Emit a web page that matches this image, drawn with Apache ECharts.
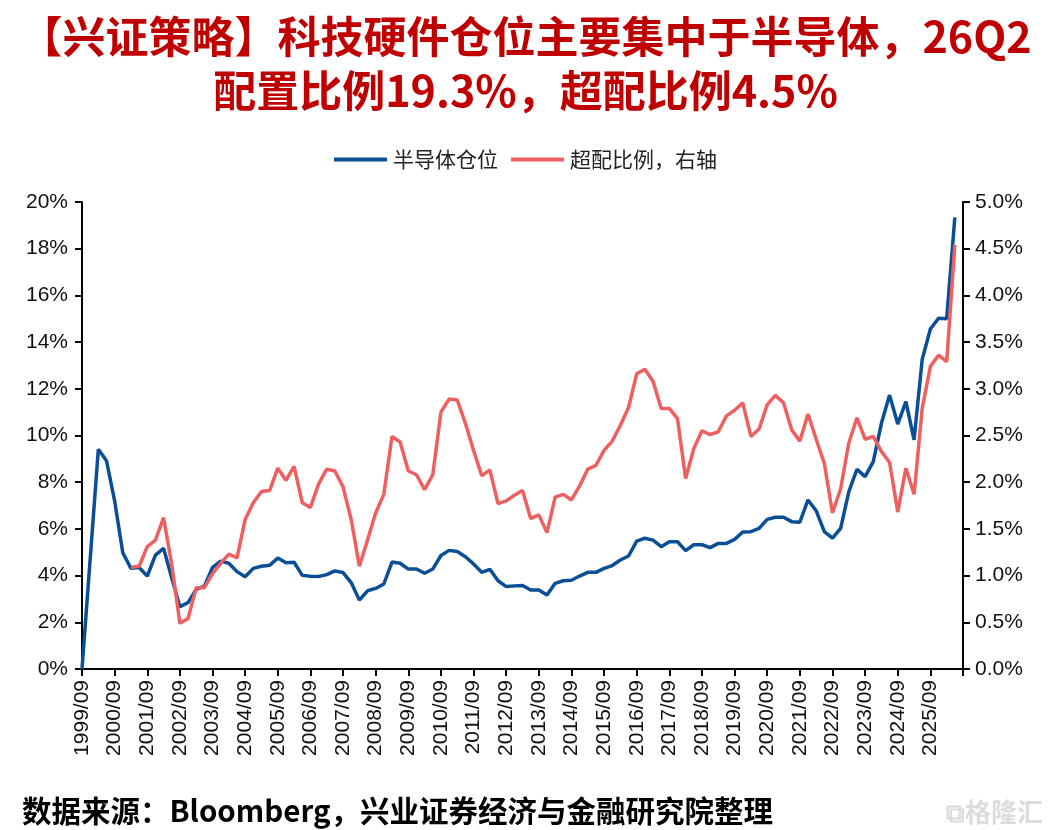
<!DOCTYPE html>
<html>
<head>
<meta charset="utf-8">
<script src="https://cdn.jsdelivr.net/npm/echarts@6/dist/echarts.min.js"></script>
<style>
html,body{margin:0;padding:0;background:#fff;}
#chart{width:1051px;height:830px;}
</style>
</head>
<body>
<div id="chart"></div>
<script>
// Quarterly categories 1999/09 ... 2026/06, plus one empty slot at the axis end
const categories = [];
for (let y = 1999, q = 9; categories.length < 109; ) {
  categories.push(y + '/' + (q < 10 ? '0' + q : q));
  q += 3; if (q > 12) { q = 3; y += 1; }
}

const semiPosition = [
  0, 4.7, 9.41, 8.92, 7.2, 4.98, 4.31, 4.35, 3.98, 4.88,
  5.17, 3.9, 2.67, 2.84, 3.41, 3.55, 4.35, 4.62, 4.53, 4.17,
  3.95, 4.31, 4.4, 4.44, 4.75, 4.55, 4.57, 4.01, 3.97, 3.96,
  4.04, 4.2, 4.13, 3.70, 2.95, 3.35, 3.45, 3.64, 4.58, 4.53,
  4.28, 4.28, 4.10, 4.28, 4.86, 5.08, 5.03, 4.81, 4.5, 4.14,
  4.27, 3.78, 3.53, 3.56, 3.58, 3.38, 3.38, 3.17, 3.67, 3.78,
  3.8, 3.98, 4.14, 4.14, 4.31, 4.43, 4.67, 4.84, 5.48, 5.6,
  5.52, 5.24, 5.45, 5.45, 5.07, 5.32, 5.32, 5.2, 5.38, 5.38,
  5.55, 5.87, 5.88, 6.02, 6.41, 6.5, 6.5, 6.31, 6.29, 7.24,
  6.78, 5.88, 5.6, 6.02, 7.59, 8.55, 8.24, 8.88, 10.52, 11.73,
  10.49, 11.45, 9.81, 13.26, 14.56, 15.02, 15.0, 19.34
];

const overweight = [
  null, null, null, null, null, null, 1.09, 1.10, 1.31, 1.38,
  1.62, 1.12, 0.49, 0.54, 0.87, 0.87, 1.02, 1.13, 1.23, 1.19,
  1.60, 1.78, 1.90, 1.91, 2.15, 2.02, 2.17, 1.78, 1.73, 1.98,
  2.14, 2.12, 1.95, 1.60, 1.10, 1.38, 1.67, 1.87, 2.49, 2.43,
  2.12, 2.08, 1.92, 2.08, 2.75, 2.89, 2.88, 2.63, 2.34, 2.07,
  2.13, 1.77, 1.80, 1.86, 1.91, 1.61, 1.65, 1.46, 1.84, 1.87,
  1.81, 1.96, 2.14, 2.18, 2.34, 2.44, 2.61, 2.80, 3.16, 3.21,
  3.08, 2.79, 2.79, 2.68, 2.04, 2.36, 2.55, 2.51, 2.54, 2.71,
  2.77, 2.85, 2.49, 2.57, 2.83, 2.93, 2.85, 2.56, 2.44, 2.73,
  2.46, 2.20, 1.67, 1.93, 2.42, 2.69, 2.46, 2.49, 2.33, 2.21,
  1.68, 2.15, 1.87, 2.79, 3.24, 3.36, 3.29, 4.54
];

const titleLines = ['【兴证策略】科技硬件仓位主要集中于半导体，26Q2', '配置比例19.3%，超配比例4.5%'];
const seriesNames = ['半导体仓位', '超配比例，右轴'];
const sourceText = '数据来源：Bloomberg，兴业证券经济与金融研究院整理';

const latin = '"Liberation Sans", Arial, sans-serif';
const cjk = '"Noto Sans CJK SC", "Liberation Sans", sans-serif';

const chart = echarts.init(document.getElementById('chart'));
chart.setOption({
  animation: false,
  backgroundColor: '#fff',
  title: {
    text: titleLines.join('\n'),
    left: 'center',
    top: 5,
    textStyle: { fontFamily: cjk, fontSize: 43, fontWeight: 'bold', color: '#c00000', lineHeight: 54 }
  },
  legend: {
    top: 144,
    left: 'center',
    itemWidth: 53,
    itemHeight: 4,
    itemGap: 13,
    icon: 'rect',
    textStyle: { fontFamily: cjk, fontSize: 21, color: '#222', padding: [0, 0, 0, 1] },
    data: seriesNames
  },
  grid: { left: 82, right: 88, top: 202, bottom: 161, containLabel: false },
  xAxis: {
    type: 'category',
    boundaryGap: false,
    data: categories,
    axisLine: { lineStyle: { color: '#000', width: 2 } },
    axisTick: { interval: 3, length: 7, lineStyle: { color: '#000', width: 2 } },
    axisLabel: {
      interval: function (idx) { return idx % 4 === 0 && idx < 108; },
      rotate: 90,
      fontFamily: latin,
      fontSize: 21,
      color: '#111',
      margin: 11
    },
    splitLine: { show: false }
  },
  yAxis: [
    {
      type: 'value', min: 0, max: 20, interval: 2,
      axisLine: { show: true, lineStyle: { color: '#000', width: 2 } },
      axisTick: { show: true, length: 7, lineStyle: { color: '#000', width: 2 } },
      axisLabel: { formatter: '{value}%', fontFamily: latin, fontSize: 21, color: '#111', margin: 14 },
      splitLine: { show: false }
    },
    {
      type: 'value', min: 0, max: 5, interval: 0.5, position: 'right',
      axisLine: { show: true, lineStyle: { color: '#000', width: 2 } },
      axisTick: { show: true, length: 7, lineStyle: { color: '#000', width: 2 } },
      axisLabel: { formatter: function (v) { return v.toFixed(1) + '%'; }, fontFamily: latin, fontSize: 21, color: '#111', margin: 12 },
      splitLine: { show: false }
    }
  ],
  series: [
    {
      name: seriesNames[0], type: 'line', yAxisIndex: 0, data: semiPosition,
      symbol: 'none', lineStyle: { color: '#0a4f96', width: 3.5 }, itemStyle: { color: '#0a4f96' }
    },
    {
      name: seriesNames[1], type: 'line', yAxisIndex: 1, data: overweight,
      symbol: 'none', lineStyle: { color: '#ef5f5f', width: 3.5 }, itemStyle: { color: '#ef5f5f' }
    }
  ],
  graphic: [
    {
      type: 'text', left: 22, top: 796,
      style: { text: sourceText, font: 'bold 29.5px ' + cjk, fill: '#000' }
    },
    {
      type: 'text', right: 8, top: 799,
      style: { text: '⧉格隆汇', font: 'bold 26px ' + cjk, fill: '#dcdcdc' }
    }
  ]
});
</script>
</body>
</html>
